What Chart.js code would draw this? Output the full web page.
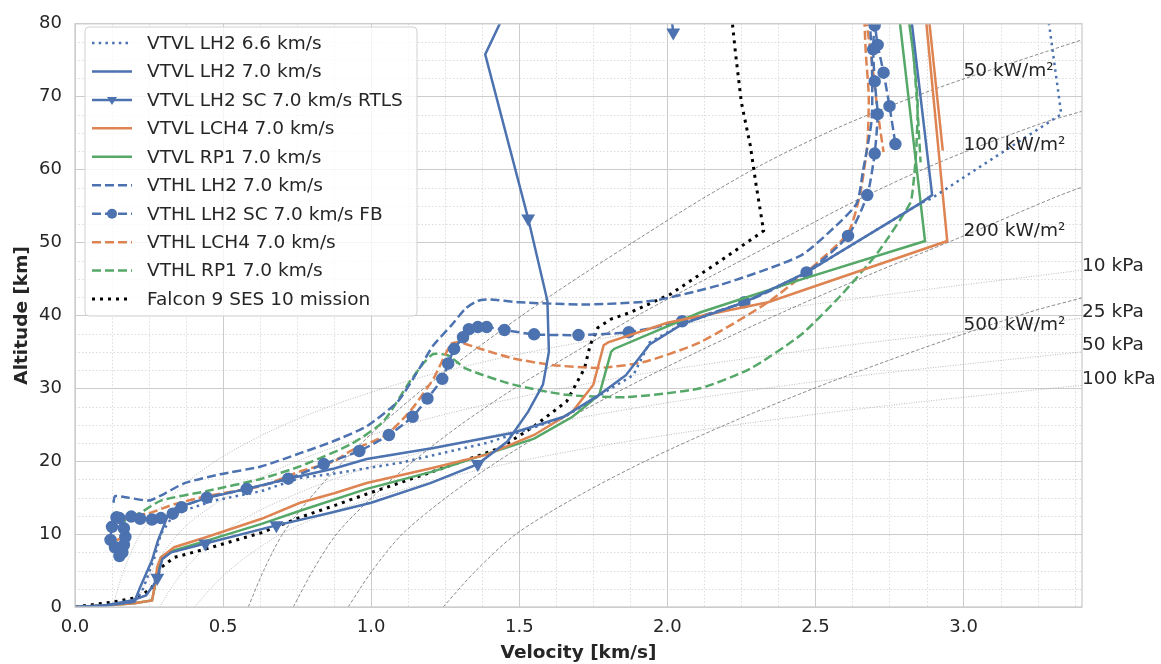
<!DOCTYPE html>
<html>
<head>
<meta charset="utf-8">
<script src="https://cdn.jsdelivr.net/npm/chart.js@4.4.0/dist/chart.umd.min.js"></script>
<style>
  html, body { margin: 0; padding: 0; background: #fff; }
</style>
</head>
<body>
<canvas id="trajChart" width="1161" height="664"></canvas>
<script>
// Ascent trajectories, velocity [km/s] vs altitude [km]
const vtvlLh2_66V = [0, 0.1, 0.2, 0.23, 0.27, 0.29, 0.335, 0.47, 0.63, 0.76, 0.875, 1.10, 1.39, 1.48, 1.65, 1.81, 1.885, 1.94, 2.05, 2.26, 2.47, 2.855, 2.89, 3.06, 3.33, 3.29, 3.28];
const vtvlLh2_66H = [0, 0.2, 0.7, 2.5, 7.0, 10.0, 12.8, 14.6, 15.9, 17.7, 18.3, 19.8, 22.5, 23.7, 26.0, 30.0, 31.8, 36.3, 38.8, 41.8, 45.9, 55.4, 56.0, 60.5, 67.6, 79.6, 82];

const vtvlLh2V = [0, 0.1, 0.2, 0.22, 0.26, 0.28, 0.31, 0.34, 0.45, 0.58, 0.72, 0.875, 0.985, 1.21, 1.48, 1.65, 1.77, 1.86, 1.94, 2.05, 2.26, 2.47, 2.855, 2.894, 2.82];
const vtvlLh2H = [0, 0.2, 0.7, 2.7, 6.4, 9.1, 12.2, 13.6, 15.0, 16.2, 17.6, 19.0, 20.3, 21.8, 23.9, 26.1, 29.1, 31.8, 36.0, 38.8, 41.8, 45.9, 55.4, 56.5, 82];

const vtvlScRtlsV = [0, 0.1, 0.19, 0.24, 0.265, 0.278, 0.295, 0.325, 0.44, 0.68, 0.86, 1.0, 1.2, 1.36, 1.46, 1.53, 1.58, 1.60, 1.595, 1.53, 1.385, 1.44, 1.50, 2.01, 2.015, 2.02];
const vtvlScRtlsH = [0, 0.2, 0.9, 1.6, 3.0, 4.0, 6.6, 7.5, 8.7, 11.2, 12.9, 14.3, 17.0, 19.6, 22.7, 26.8, 30.5, 35.0, 42.0, 53.3, 75.8, 80.5, 84, 84, 80.5, 78.8];
const vtvlScRtlsMarks = [5, 8, 9, 13, 19, 25];

const vtvlLch4V = [0, 0.1, 0.2, 0.26, 0.27, 0.277, 0.29, 0.335, 0.445, 0.63, 0.76, 0.875, 0.985, 1.21, 1.39, 1.55, 1.68, 1.75, 1.785, 1.80, 2.0, 2.34, 2.945, 2.87, 2.88, 2.93];
const vtvlLch4H = [0, 0.2, 0.5, 0.9, 3.0, 5.4, 6.8, 8.2, 9.6, 12.1, 14.3, 15.6, 17.0, 19.1, 20.9, 23.6, 26.8, 30.5, 35.9, 36.3, 39.0, 41.8, 50.2, 82, 82, 62.6];

const vtvlRp1V = [0, 0.1, 0.2, 0.26, 0.268, 0.275, 0.29, 0.32, 0.445, 0.63, 0.76, 0.985, 1.21, 1.55, 1.68, 1.77, 1.81, 1.82, 2.11, 2.45, 2.87, 2.78];
const vtvlRp1H = [0, 0.2, 0.5, 0.9, 2.5, 4.0, 6.8, 7.6, 9.1, 11.4, 13.2, 16.2, 18.6, 23.1, 26.1, 29.1, 35.0, 35.4, 40.4, 44.9, 50.2, 82];

const vthlLh2V = [0.13, 0.135, 0.18, 0.25, 0.30, 0.37, 0.49, 0.63, 0.76, 0.87, 0.985, 1.09, 1.155, 1.21, 1.27, 1.32, 1.36, 1.40, 1.50, 1.73, 1.95, 2.18, 2.45, 2.58, 2.64, 2.66, 2.69, 2.69, 2.68];
const vthlLh2H = [14.3, 15.2, 15.0, 14.6, 15.5, 17.0, 18.2, 19.3, 21.1, 22.7, 24.8, 28.2, 32.2, 35.9, 38.6, 41.0, 42.0, 42.2, 41.8, 41.5, 42.0, 44.2, 48.2, 52.7, 55.4, 59.7, 66.9, 76.0, 82];

const vthlScFbV = [0.14, 0.125, 0.12, 0.135, 0.15, 0.16, 0.165, 0.17, 0.165, 0.15, 0.19, 0.22, 0.26, 0.29, 0.33, 0.36, 0.445, 0.58, 0.72, 0.84, 0.96, 1.06, 1.14, 1.19, 1.24, 1.26, 1.28, 1.31, 1.33, 1.36, 1.39, 1.45, 1.55, 1.70, 1.87, 2.05, 2.26, 2.47, 2.61, 2.675, 2.70, 2.71, 2.70, 2.695, 2.70, 2.71, 2.73, 2.75, 2.77];
const vthlScFbH = [12.3, 11.0, 9.2, 8.2, 7.0, 7.5, 8.5, 9.6, 10.8, 12.2, 12.4, 12.1, 12.0, 12.2, 12.8, 13.7, 15.0, 16.2, 17.6, 19.6, 21.4, 23.6, 26.1, 28.6, 31.3, 33.4, 35.4, 37.0, 38.1, 38.4, 38.4, 38.0, 37.4, 37.3, 37.7, 39.2, 41.8, 45.9, 50.9, 56.5, 62.2, 67.6, 72.1, 76.5, 79.8, 77.1, 73.3, 68.7, 63.5];

const vthlLch4V = [0.14, 0.17, 0.17, 0.175, 0.245, 0.335, 0.445, 0.63, 0.76, 0.875, 0.93, 1.05, 1.13, 1.21, 1.27, 1.30, 1.37, 1.48, 1.61, 1.77, 1.92, 2.11, 2.34, 2.48, 2.61, 2.65, 2.675, 2.68, 2.67, 2.665, 2.69, 2.71, 2.73];
const vthlLch4H = [9.1, 10.0, 11.8, 12.5, 12.8, 14.1, 15.2, 16.6, 18.6, 20.0, 21.4, 23.6, 26.8, 31.3, 36.1, 36.3, 35.4, 34.1, 33.2, 32.8, 33.6, 36.3, 41.8, 46.3, 51.3, 56.5, 63.3, 70.1, 76.0, 82, 75, 68, 62.4];

const vthlRp1V = [0.16, 0.165, 0.17, 0.22, 0.29, 0.445, 0.63, 0.76, 0.93, 1.04, 1.13, 1.18, 1.21, 1.26, 1.32, 1.48, 1.66, 1.865, 2.11, 2.28, 2.45, 2.585, 2.71, 2.82, 2.83, 2.84, 2.845, 2.83, 2.81, 2.83, 2.845, 2.855];
const vthlRp1H = [9.5, 10.8, 12.0, 12.9, 14.6, 15.9, 17.6, 19.3, 22.3, 25.4, 30.9, 33.6, 34.7, 34.5, 32.7, 30.5, 29.1, 28.8, 30.0, 32.7, 37.3, 42.7, 48.6, 55.4, 57.8, 62.4, 69.2, 76.0, 82, 76, 68, 61];

const falcon9V = [0, 0.13, 0.22, 0.26, 0.29, 0.335, 0.445, 0.63, 0.76, 0.875, 0.985, 1.21, 1.435, 1.55, 1.66, 1.72, 1.74, 1.765, 1.81, 1.875, 2.01, 2.18, 2.325, 2.30, 2.28, 2.25, 2.23, 2.22, 2.21];
const falcon9H = [0, 0.7, 1.4, 2.7, 5.4, 6.8, 8.0, 10.2, 12.3, 13.9, 15.5, 18.6, 21.8, 24.8, 28.2, 32.7, 36.0, 38.3, 39.5, 40.4, 42.9, 47.5, 51.6, 57.8, 63.3, 69.2, 76.0, 79.9, 82];

// Constant heat flux lines
const heat50V = [0.585, 0.637, 0.701, 0.795, 0.906, 1.034, 1.178, 1.34, 1.52, 1.71, 1.91, 2.11, 2.33, 2.59, 2.90, 3.28, 3.4];
const heat50H = [0, 5, 10, 15, 20, 25, 30, 35, 40.3, 45.5, 50.7, 55.8, 60.9, 66, 71, 76.2, 77.8];
const heat100V = [0.737, 0.803, 0.883, 1.002, 1.142, 1.302, 1.484, 1.689, 1.913, 2.154, 2.403, 2.65, 2.93, 3.26, 3.4];
const heat100H = [0, 5, 10, 15, 20, 25, 30, 35, 40.3, 45.5, 50.8, 56, 61.2, 66.3, 68];
const heat200V = [0.922, 1.004, 1.105, 1.253, 1.428, 1.629, 1.856, 2.112, 2.393, 2.695, 3.006, 3.315, 3.4];
const heat200H = [0, 5, 10, 15, 20, 25, 30, 35.2, 40.5, 45.8, 51, 56.3, 57.6];
const heat500V = [1.243, 1.354, 1.489, 1.689, 1.925, 2.196, 2.502, 2.848, 3.227, 3.4];
const heat500H = [0, 5, 10, 15, 20, 25, 30.1, 35.3, 40.5, 42.4];

// Constant dynamic pressure lines
const dyn10V = [0.128, 0.141, 0.156, 0.174, 0.195, 0.22, 0.253, 0.296, 0.347, 0.405, 0.474, 0.557, 0.653, 0.764, 0.893, 1.043, 1.213, 1.538, 2.236, 2.77, 3.4];
const dyn10H = [0, 2, 4, 6, 8, 10, 12, 14, 16, 18, 20, 22, 24, 26, 28, 30, 32, 35, 40, 43, 46.2];
const dyn25V = [0.202, 0.223, 0.247, 0.275, 0.308, 0.348, 0.4, 0.468, 0.549, 0.64, 0.749, 0.881, 1.032, 1.208, 1.412, 1.649, 1.918, 2.432, 2.94, 3.4];
const dyn25H = [0, 2, 4, 6, 8, 10, 12, 14, 16, 18, 20, 22, 24, 26, 28, 30, 32, 35, 37.5, 39.6];
const dyn50V = [0.286, 0.315, 0.349, 0.389, 0.436, 0.492, 0.566, 0.662, 0.776, 0.906, 1.06, 1.245, 1.46, 1.708, 1.997, 2.332, 2.712, 3.4];
const dyn50H = [0, 2, 4, 6, 8, 10, 12, 14, 16, 18, 20, 22, 24, 26, 28, 30, 32, 35];
const dyn100V = [0.404, 0.446, 0.493, 0.55, 0.617, 0.696, 0.8, 0.936, 1.097, 1.281, 1.499, 1.761, 2.065, 2.416, 2.824, 3.298, 3.4];
const dyn100H = [0, 2, 4, 6, 8, 10, 12, 14, 16, 18, 20, 22, 24, 26, 28, 30, 30.4];

// Labels of the constant lines, anchored in data coordinates
const lineLabels = ['50 kW/m²', '100 kW/m²', '200 kW/m²', '500 kW/m²', '10 kPa', '25 kPa', '50 kPa', '100 kPa'];
const lineLabelV = [3.0, 3.0, 3.0, 3.0, 3.4, 3.4, 3.4, 3.4];
const lineLabelH = [73.5, 63.3, 51.6, 38.6, 46.8, 40.4, 35.9, 31.2];

// Axis ticks
const velocityTicks = [0, 0.5, 1.0, 1.5, 2.0, 2.5, 3.0];
const altitudeTicks = [0, 10, 20, 30, 40, 50, 60, 70, 80];

const BLUE = '#4c72b0';
const ORANGE = '#dd8452';
const GREEN = '#55a868';
const TEXT = '#262626';
const DASHED = [9, 4];
const DOTTED = [2.5, 4.2];

function pts(v, h) {
    return v.map((x, i) => ({ x: x, y: h[i] }));
}

function trace(label, v, h, color, dash, extra) {
    return Object.assign({
        label: label,
        data: pts(v, h),
        showLine: true,
        borderColor: color,
        backgroundColor: color,
        borderWidth: 2.5,
        borderDash: dash,
        pointRadius: 0,
        tension: 0
    }, extra || {});
}

function guide(v, h, heat) {
    return {
        label: '',
        contour: true,
        data: pts(v, h),
        showLine: true,
        borderColor: heat ? 'rgba(110,110,110,0.8)' : 'rgba(160,160,160,0.7)',
        borderWidth: 1,
        borderDash: heat ? [3.5, 2] : [1, 1.5],
        pointRadius: 0,
        tension: 0.3
    };
}

const datasets = [
    trace('VTVL LH2 6.6 km/s', vtvlLh2_66V, vtvlLh2_66H, BLUE, DOTTED),
    trace('VTVL LH2 7.0 km/s', vtvlLh2V, vtvlLh2H, BLUE, []),
    trace('VTVL LH2 SC 7.0 km/s RTLS', vtvlScRtlsV, vtvlScRtlsH, BLUE, [], {
        pointStyle: 'triangle',
        pointRotation: 180,
        pointRadius: ctx => vtvlScRtlsMarks.includes(ctx.dataIndex) ? 5.5 : 0,
        marker: 'triangle'
    }),
    trace('VTVL LCH4 7.0 km/s', vtvlLch4V, vtvlLch4H, ORANGE, []),
    trace('VTVL RP1 7.0 km/s', vtvlRp1V, vtvlRp1H, GREEN, []),
    trace('VTHL LH2 7.0 km/s', vthlLh2V, vthlLh2H, BLUE, DASHED, { tension: 0.2 }),
    trace('VTHL LH2 SC 7.0 km/s FB', vthlScFbV, vthlScFbH, BLUE, DASHED, {
        pointStyle: 'circle',
        pointRadius: 5,
        tension: 0.2,
        marker: 'circle'
    }),
    trace('VTHL LCH4 7.0 km/s', vthlLch4V, vthlLch4H, ORANGE, DASHED, { tension: 0.2 }),
    trace('VTHL RP1 7.0 km/s', vthlRp1V, vthlRp1H, GREEN, DASHED, { tension: 0.2 }),
    trace('Falcon 9 SES 10 mission', falcon9V, falcon9H, '#000000', [3, 5], { borderWidth: 3 }),
    guide(heat50V, heat50H, true),
    guide(heat100V, heat100H, true),
    guide(heat200V, heat200H, true),
    guide(heat500V, heat500H, true),
    guide(dyn10V, dyn10H, false),
    guide(dyn25V, dyn25H, false),
    guide(dyn50V, dyn50H, false),
    guide(dyn100V, dyn100H, false)
];

// Dotted minor grid under everything
const minorGrid = {
    id: 'minorGrid',
    beforeDraw(chart) {
        const { ctx, chartArea: a, scales: { x, y } } = chart;
        ctx.save();
        ctx.strokeStyle = '#dcdcdc';
        ctx.lineWidth = 1;
        ctx.setLineDash([1.5, 2]);
        for (let k = 1; k * 0.125 < 3.4; k++) {
            if (k % 4 === 0) continue;
            const px = Math.round(x.getPixelForValue(k * 0.125)) + 0.5;
            ctx.beginPath();
            ctx.moveTo(px, a.top);
            ctx.lineTo(px, a.bottom);
            ctx.stroke();
        }
        for (let k = 1; k * 2.5 < 80; k++) {
            if (k % 4 === 0) continue;
            const py = Math.round(y.getPixelForValue(k * 2.5)) + 0.5;
            ctx.beginPath();
            ctx.moveTo(a.left, py);
            ctx.lineTo(a.right, py);
            ctx.stroke();
        }
        ctx.restore();
    }
};

// Frame, line labels and the legend box
const overlay = {
    id: 'overlay',
    afterDatasetsDraw(chart) {
        const { ctx, chartArea: a } = chart;
        ctx.save();
        ctx.strokeStyle = '#cccccc';
        ctx.lineWidth = 1.3;
        ctx.strokeRect(a.left, a.top, a.right - a.left, a.bottom - a.top);
        ctx.restore();
    },
    afterDraw(chart) {
        const { ctx, scales: { x, y } } = chart;
        ctx.save();
        ctx.font = '18.5px "DejaVu Sans", sans-serif';
        ctx.fillStyle = TEXT;
        ctx.textBaseline = 'middle';
        ctx.textAlign = 'left';
        lineLabels.forEach((t, i) => {
            ctx.fillText(t, x.getPixelForValue(lineLabelV[i]), y.getPixelForValue(lineLabelH[i]));
        });

        // legend
        const items = chart.data.datasets.filter(d => !d.contour);
        const bx = 85, by = 27, bw = 332, bh = 289, r = 4;
        ctx.beginPath();
        ctx.moveTo(bx + r, by);
        ctx.arcTo(bx + bw, by, bx + bw, by + bh, r);
        ctx.arcTo(bx + bw, by + bh, bx, by + bh, r);
        ctx.arcTo(bx, by + bh, bx, by, r);
        ctx.arcTo(bx, by, bx + bw, by, r);
        ctx.closePath();
        ctx.fillStyle = 'rgba(255,255,255,0.8)';
        ctx.fill();
        ctx.strokeStyle = '#d0d0d0';
        ctx.lineWidth = 1;
        ctx.stroke();

        items.forEach((d, i) => {
            const ry = 43 + i * 28.45;
            ctx.save();
            ctx.strokeStyle = d.borderColor;
            ctx.lineWidth = d.borderWidth;
            ctx.setLineDash(d.borderDash);
            ctx.beginPath();
            ctx.moveTo(92, ry);
            ctx.lineTo(132, ry);
            ctx.stroke();
            ctx.setLineDash([]);
            ctx.fillStyle = d.borderColor;
            if (d.marker === 'circle') {
                ctx.beginPath();
                ctx.arc(112, ry, 5, 0, Math.PI * 2);
                ctx.fill();
            } else if (d.marker === 'triangle') {
                ctx.beginPath();
                ctx.moveTo(107, ry - 3);
                ctx.lineTo(117, ry - 3);
                ctx.lineTo(112, ry + 5);
                ctx.closePath();
                ctx.fill();
            }
            ctx.restore();
            ctx.fillStyle = TEXT;
            ctx.fillText(d.label, 147, ry + 1);
        });
        ctx.restore();
    }
};

Chart.defaults.font.family = '"DejaVu Sans", sans-serif';
Chart.defaults.color = TEXT;

new Chart(document.getElementById('trajChart').getContext('2d'), {
    type: 'scatter',
    data: { datasets: datasets },
    options: {
        responsive: false,
        devicePixelRatio: 1,
        animation: false,
        events: [],
        layout: { padding: { top: 19, right: 79, left: 0, bottom: 0 } },
        plugins: {
            legend: { display: false },
            tooltip: { enabled: false }
        },
        scales: {
            x: {
                type: 'linear',
                min: 0,
                max: 3.4,
                afterBuildTicks: axis => { axis.ticks = velocityTicks.map(v => ({ value: v })); },
                afterFit: axis => { axis.height = 57; },
                ticks: {
                    callback: v => v.toFixed(1),
                    font: { size: 18 },
                    color: TEXT,
                    padding: 10,
                    maxRotation: 0
                },
                grid: { color: '#cccccc', lineWidth: 1, drawTicks: false },
                border: { display: false },
                title: {
                    display: true,
                    text: 'Velocity [km/s]',
                    font: { size: 18.5, weight: 'bold' },
                    color: TEXT,
                    padding: { top: 0, bottom: 0 }
                }
            },
            y: {
                type: 'linear',
                min: 0,
                max: 80,
                afterBuildTicks: axis => { axis.ticks = altitudeTicks.map(v => ({ value: v })); },
                afterFit: axis => { axis.width = 75; },
                ticks: {
                    font: { size: 18 },
                    color: TEXT,
                    padding: 13
                },
                grid: { color: '#cccccc', lineWidth: 1, drawTicks: false },
                border: { display: false },
                title: {
                    display: true,
                    text: 'Altitude [km]',
                    font: { size: 18.5, weight: 'bold' },
                    color: TEXT,
                    padding: { top: 11, bottom: 0 }
                }
            }
        }
    },
    plugins: [minorGrid, overlay]
});
</script>
</body>
</html>
